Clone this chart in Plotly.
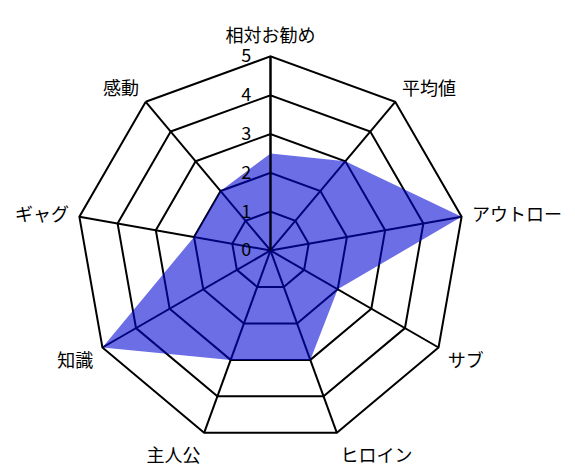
import plotly.graph_objects as go

# ── データ ───────────────────────────────────────────────────────────────────
CATEGORIES = ["相対お勧め", "平均値", "アウトロー", "サブ", "ヒロイン",
              "主人公", "知識", "ギャグ", "感動"]
SCORES = [2.5, 3, 5, 2, 3, 3, 5, 2, 2]
RADIAL_TICKS = [0, 1, 2, 3, 4, 5]

FONT = "Noto Sans CJK JP, Noto Sans, sans-serif"
FILL = "rgba(0, 5, 210, 0.58)"

fig = go.Figure()
fig.add_trace(
    go.Scatterpolar(
        r=SCORES + SCORES[:1],
        theta=CATEGORIES + CATEGORIES[:1],
        mode="lines",
        fill="toself",
        fillcolor=FILL,
        line=dict(width=0, color=FILL),
        showlegend=False,
        hoverinfo="skip",
    )
)

fig.update_layout(
    width=575,
    height=469,
    paper_bgcolor="white",
    font=dict(family=FONT, color="black", size=18),
    margin=dict(l=0, r=0, t=0, b=0),
    polar=dict(
        domain=dict(x=[0.119, 0.794], y=[0.069, 0.897]),
        bgcolor="white",
        gridshape="linear",
        angularaxis=dict(
            rotation=90,
            direction="clockwise",
            gridcolor="black",
            gridwidth=2,
            linecolor="black",
            linewidth=2,
            # 項目名を外枠から少し離す
            ticks="outside",
            ticklen=6,
            tickcolor="rgba(0,0,0,0)",
            tickfont=dict(size=18, color="black"),
        ),
        radialaxis=dict(
            range=[0, 5],
            tickvals=RADIAL_TICKS,
            angle=90,
            side="counterclockwise",
            showline=True,
            linecolor="black",
            linewidth=2,
            gridcolor="black",
            gridwidth=2,
            # 透明な目盛線で数字を軸から離す
            ticks="outside",
            ticklen=12,
            tickcolor="rgba(0,0,0,0)",
            tickangle=90,
            tickfont=dict(size=18, color="black"),
        ),
    ),
)

fig.write_html("out.html")
